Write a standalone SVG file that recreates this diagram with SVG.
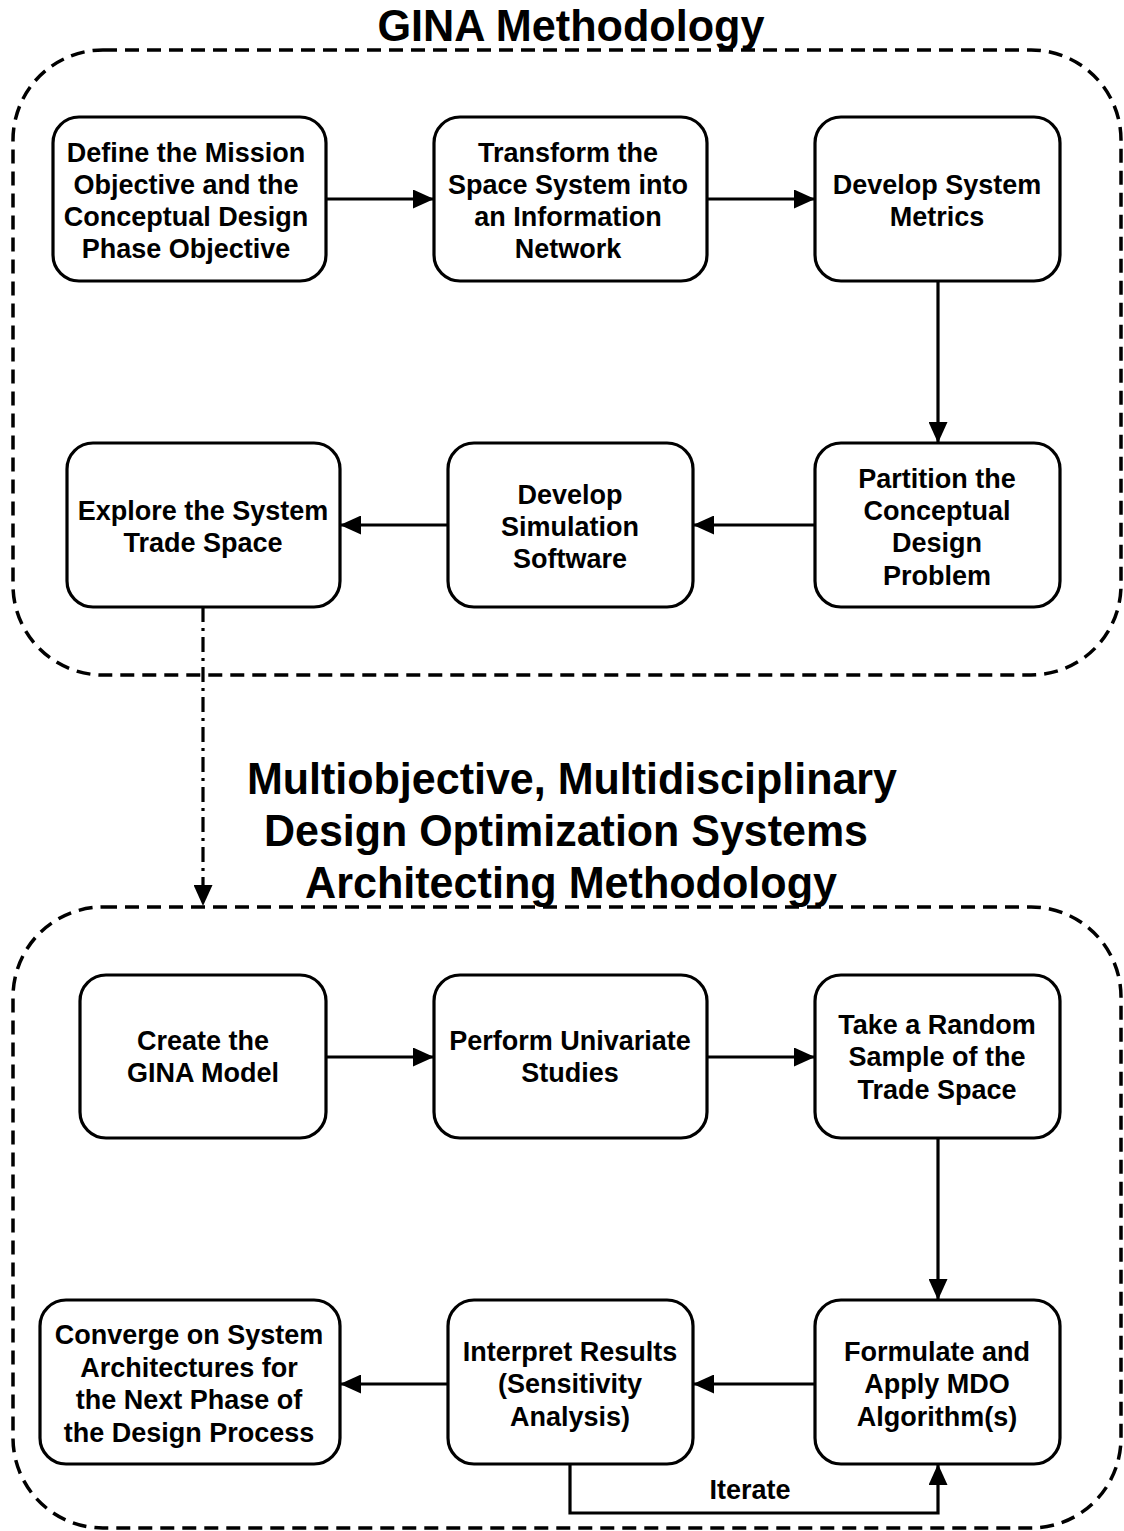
<svg xmlns="http://www.w3.org/2000/svg" width="1124" height="1531" viewBox="0 0 1124 1531">
  <style>
    .frame { fill: none; stroke: #000; stroke-width: 3.5; stroke-dasharray: 14 8; }
    .box { fill: #fff; stroke: #000; stroke-width: 3.2; }
    .lbl { font-family: "Liberation Sans", Arial, sans-serif; font-weight: bold; font-size: 27px; fill: #000; text-anchor: middle; }
    .title { font-family: "Liberation Sans", Arial, sans-serif; font-weight: bold; font-size: 45px; fill: #000; text-anchor: middle; }
    .edge { fill: none; stroke: #000; stroke-width: 3.2; }
    .dashdot { stroke-dasharray: 15 6 3 6; }
  </style>
  <defs>
    <marker id="arrow" viewBox="0 0 21 19" refX="21" refY="9.5" markerWidth="21" markerHeight="19" markerUnits="userSpaceOnUse" orient="auto">
      <path d="M0,0 L21,9.5 L0,19 Z" fill="#000"/>
    </marker>
  </defs>

  <!-- dashed phase frames -->
  <g id="frame-gina">
    <rect class="frame" x="13" y="50" width="1108" height="625" rx="90" ry="90"/>
    <text class="title" x="571" y="41" textLength="387" lengthAdjust="spacingAndGlyphs">GINA Methodology</text>
  </g>
  <g id="frame-mdo">
    <rect class="frame" x="13" y="907" width="1108" height="621" rx="90" ry="90"/>
    <text class="title" x="572" y="794" textLength="650" lengthAdjust="spacingAndGlyphs">Multiobjective, Multidisciplinary</text>
    <text class="title" x="566" y="846" textLength="604" lengthAdjust="spacingAndGlyphs">Design Optimization Systems</text>
    <text class="title" x="571" y="898" textLength="532" lengthAdjust="spacingAndGlyphs">Architecting Methodology</text>
  </g>

  <!-- connectors -->
  <g id="connectors">
    <line class="edge" x1="326" y1="199" x2="434" y2="199" marker-end="url(#arrow)"/>
    <line class="edge" x1="707" y1="199" x2="815" y2="199" marker-end="url(#arrow)"/>
    <line class="edge" x1="938" y1="281" x2="938" y2="443" marker-end="url(#arrow)"/>
    <line class="edge" x1="815" y1="525" x2="693" y2="525" marker-end="url(#arrow)"/>
    <line class="edge" x1="448" y1="525" x2="340" y2="525" marker-end="url(#arrow)"/>
    <line class="edge dashdot" x1="203" y1="607" x2="203" y2="906" marker-end="url(#arrow)"/>
    <line class="edge" x1="326" y1="1057" x2="434" y2="1057" marker-end="url(#arrow)"/>
    <line class="edge" x1="707" y1="1057" x2="815" y2="1057" marker-end="url(#arrow)"/>
    <line class="edge" x1="938" y1="1138" x2="938" y2="1300" marker-end="url(#arrow)"/>
    <line class="edge" x1="815" y1="1384" x2="693" y2="1384" marker-end="url(#arrow)"/>
    <line class="edge" x1="448" y1="1384" x2="340" y2="1384" marker-end="url(#arrow)"/>
    <polyline class="edge" points="570,1464 570,1513 938,1513 938,1464" marker-end="url(#arrow)"/>
    <text class="lbl" x="750" y="1499">Iterate</text>
  </g>

  <!-- GINA steps -->
  <g id="n-define">
    <rect class="box" x="53" y="117" width="273" height="164" rx="26"/>
    <text class="lbl" x="186" y="162">Define the Mission</text>
    <text class="lbl" x="186" y="194">Objective and the</text>
    <text class="lbl" x="186" y="226">Conceptual Design</text>
    <text class="lbl" x="186" y="258">Phase Objective</text>
  </g>
  <g id="n-transform">
    <rect class="box" x="434" y="117" width="273" height="164" rx="26"/>
    <text class="lbl" x="568" y="162">Transform the</text>
    <text class="lbl" x="568" y="194">Space System into</text>
    <text class="lbl" x="568" y="226">an Information</text>
    <text class="lbl" x="568" y="258">Network</text>
  </g>
  <g id="n-metrics">
    <rect class="box" x="815" y="117" width="245" height="164" rx="26"/>
    <text class="lbl" x="937" y="194">Develop System</text>
    <text class="lbl" x="937" y="226">Metrics</text>
  </g>
  <g id="n-partition">
    <rect class="box" x="815" y="443" width="245" height="164" rx="26"/>
    <text class="lbl" x="937" y="488">Partition the</text>
    <text class="lbl" x="937" y="520">Conceptual</text>
    <text class="lbl" x="937" y="552">Design</text>
    <text class="lbl" x="937" y="585">Problem</text>
  </g>
  <g id="n-simulation">
    <rect class="box" x="448" y="443" width="245" height="164" rx="26"/>
    <text class="lbl" x="570" y="504">Develop</text>
    <text class="lbl" x="570" y="536">Simulation</text>
    <text class="lbl" x="570" y="568">Software</text>
  </g>
  <g id="n-explore">
    <rect class="box" x="67" y="443" width="273" height="164" rx="26"/>
    <text class="lbl" x="203" y="520">Explore the System</text>
    <text class="lbl" x="203" y="552">Trade Space</text>
  </g>

  <!-- MDO steps -->
  <g id="n-gina-model">
    <rect class="box" x="80" y="975" width="246" height="163" rx="26"/>
    <text class="lbl" x="203" y="1050">Create the</text>
    <text class="lbl" x="203" y="1082">GINA Model</text>
  </g>
  <g id="n-univariate">
    <rect class="box" x="434" y="975" width="273" height="163" rx="26"/>
    <text class="lbl" x="570" y="1050">Perform Univariate</text>
    <text class="lbl" x="570" y="1082">Studies</text>
  </g>
  <g id="n-sample">
    <rect class="box" x="815" y="975" width="245" height="163" rx="26"/>
    <text class="lbl" x="937" y="1034">Take a Random</text>
    <text class="lbl" x="937" y="1066">Sample of the</text>
    <text class="lbl" x="937" y="1099">Trade Space</text>
  </g>
  <g id="n-mdo">
    <rect class="box" x="815" y="1300" width="245" height="164" rx="26"/>
    <text class="lbl" x="937" y="1361">Formulate and</text>
    <text class="lbl" x="937" y="1393">Apply MDO</text>
    <text class="lbl" x="937" y="1426">Algorithm(s)</text>
  </g>
  <g id="n-interpret">
    <rect class="box" x="448" y="1300" width="245" height="164" rx="26"/>
    <text class="lbl" x="570" y="1361">Interpret Results</text>
    <text class="lbl" x="570" y="1393">(Sensitivity</text>
    <text class="lbl" x="570" y="1426">Analysis)</text>
  </g>
  <g id="n-converge">
    <rect class="box" x="40" y="1300" width="300" height="164" rx="26"/>
    <text class="lbl" x="189" y="1344">Converge on System</text>
    <text class="lbl" x="189" y="1377">Architectures for</text>
    <text class="lbl" x="189" y="1409">the Next Phase of</text>
    <text class="lbl" x="189" y="1442">the Design Process</text>
  </g>
</svg>
